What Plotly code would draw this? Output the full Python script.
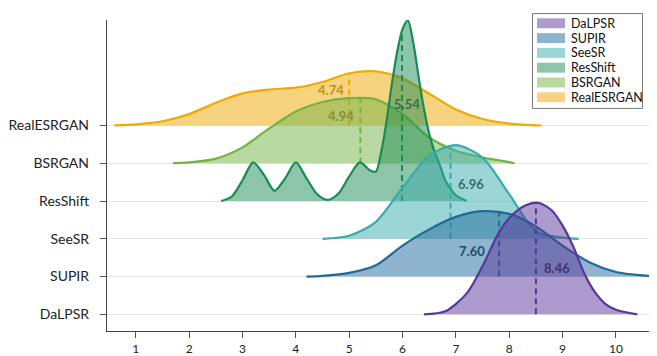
import numpy as np
import plotly.graph_objects as go

# ---------------- data ----------------
categories = ["DaLPSR", "SUPIR", "SeeSR", "ResShift", "BSRGAN", "RealESRGAN"]  # bottom -> top

mean_labels = [8.46, 7.60, 6.96, 5.54, 4.94, 4.74]          # printed values
dash_positions = [8.50, 7.81, 6.90, 5.99, 5.21, 5.00]       # dashed marker positions

# density curves (x, relative height)
dalpsr_x = [6.4, 6.8, 7.2, 7.5, 7.8, 8.0, 8.3, 8.55, 8.8, 9.0, 9.2, 9.4, 9.6, 9.8, 10.0, 10.4]
dalpsr_y = [0.0, 0.08, 0.55, 1.28, 2.15, 2.55, 2.88, 2.95, 2.75, 2.35, 1.80, 1.10, 0.60, 0.28, 0.12, 0.0]

supir_x = [4.2, 4.5, 5.0, 5.5, 6.0, 6.5, 7.0, 7.5, 8.0, 8.5, 9.0, 9.5, 10.0, 10.5, 10.8]
supir_y = [0.0, 0.02, 0.10, 0.30, 0.82, 1.25, 1.58, 1.73, 1.66, 1.33, 0.82, 0.38, 0.12, 0.03, 0.01]

seesr_x = [4.5, 5.0, 5.5, 6.0, 6.5, 7.0, 7.5, 8.0, 8.5, 9.0, 9.3]
seesr_y = [0.0, 0.08, 0.45, 1.35, 2.20, 2.48, 2.15, 1.18, 0.20, 0.03, 0.0]

resshift_x = [2.6, 2.8, 3.0, 3.2, 3.4, 3.6, 3.8, 4.0, 4.2, 4.4, 4.6, 4.8, 5.0, 5.2, 5.4, 5.5,
              5.6, 5.7, 5.8, 5.9, 6.0, 6.1, 6.2, 6.3, 6.4, 6.5, 6.6, 6.7, 6.8, 6.9, 7.0, 7.2]
resshift_y = [0.0, 0.12, 0.55, 1.02, 0.70, 0.27, 0.60, 1.02, 0.60, 0.18, 0.03, 0.20, 0.65, 1.02, 0.80, 0.78,
              1.30, 2.10, 3.10, 3.95, 4.55, 4.78, 4.20, 3.30, 2.45, 1.78, 1.30, 0.95, 0.55, 0.32, 0.15, 0.0]

bsrgan_x = [1.7, 2.0, 2.5, 3.0, 3.5, 4.0, 4.5, 5.0, 5.5, 6.0, 6.5, 7.0, 7.5, 8.0, 8.1]
bsrgan_y = [0.0, 0.02, 0.12, 0.42, 0.92, 1.37, 1.62, 1.72, 1.69, 1.30, 0.68, 0.33, 0.15, 0.03, 0.0]

realesrgan_x = [0.6, 1.0, 1.5, 2.0, 2.5, 3.0, 3.5, 4.0, 4.5, 5.0, 5.5, 6.0, 6.5, 7.0, 7.5, 8.0, 8.6]
realesrgan_y = [0.0, 0.03, 0.11, 0.30, 0.60, 0.85, 0.95, 1.00, 1.15, 1.38, 1.43, 1.24, 0.84, 0.42, 0.17, 0.05, 0.0]

curves_x = [dalpsr_x, supir_x, seesr_x, resshift_x, bsrgan_x, realesrgan_x]
curves_y = [dalpsr_y, supir_y, seesr_y, resshift_y, bsrgan_y, realesrgan_y]

x_ticks = [1, 2, 3, 4, 5, 6, 7, 8, 9, 10]

# ---------------- styles ----------------
line_colors = ["#59379a", "#1f699b", "#39abab", "#198b55", "#73b345", "#eeaa00"]
fill_colors = ["rgba(89,55,154,0.5)", "rgba(31,105,155,0.5)", "rgba(57,171,171,0.5)",
               "rgba(25,139,85,0.5)", "rgba(115,179,69,0.5)", "rgba(238,170,0,0.5)"]
label_colors = ["#4a2c72", "#1d4c6c", "#2d6f70", "#3a6b57", "#7d9040", "#c0921a"]
# label placement: (height above baseline, xanchor, pixel shift)
label_place = [(1.23, "left", 6), (0.67, "right", -12), (1.44, "left", 5),
               (2.57, "center", 5), (1.26, "right", -4), (0.95, "right", -3)]

FONT = "Lato, 'Open Sans', sans-serif"

fig = go.Figure()

# draw from top row to bottom row so lower ridges overlay upper ones
for i in reversed(range(len(categories))):
    xs = np.array(curves_x[i])
    hs = np.array(curves_y[i])
    base = i
    fig.add_trace(go.Scatter(x=[xs[0], xs[-1]], y=[base, base], mode="lines",
                             line=dict(width=0, color=line_colors[i]), hoverinfo="skip",
                             showlegend=False))
    fig.add_trace(go.Scatter(x=xs, y=base + hs, mode="lines", fill="tonexty",
                             fillcolor=fill_colors[i],
                             line=dict(color=line_colors[i], width=2.2, shape="spline", smoothing=0.8),
                             name=categories[i], showlegend=False))
    m = dash_positions[i]
    hm = float(np.interp(m, xs, hs))
    fig.add_trace(go.Scatter(x=[m, m], y=[base, base + hm], mode="lines",
                             line=dict(color=line_colors[i], width=2, dash="6px,4px"),
                             hoverinfo="skip", showlegend=False))

for i, cat in enumerate(categories):
    dy, anchor, shift = label_place[i]
    fig.add_annotation(x=dash_positions[i], y=i + dy, xref="x", yref="y",
                       text="<b>%.2f</b>" % mean_labels[i], showarrow=False,
                       xanchor=anchor, yanchor="middle", xshift=shift,
                       font=dict(family=FONT, size=13, color=label_colors[i]))

# ---------------- layout geometry (page offset of 8px from body margin) ----------------
OFF = 8
W, H = 657 - OFF, 356 - OFF
L, R, T, B = 107 - OFF, 0, 20 - OFF, 23
pw, ph = W - L - R, H - T - B


def px2x(px):
    return (px - OFF - L) / pw


def px2y(py):
    return (H - B - (py - OFF)) / ph


fig.add_shape(type="rect", xref="paper", yref="paper",
              x0=px2x(532.5), x1=px2x(642.5), y0=px2y(109), y1=px2y(13.5),
              line=dict(color="#7a7a7a", width=1), fillcolor="white", layer="above")
for k, i in enumerate(range(len(categories))):  # DaLPSR first
    cy = 23.3 + 14.9 * k
    fig.add_shape(type="rect", xref="paper", yref="paper",
                  x0=px2x(537), x1=px2x(565), y0=px2y(cy + 5), y1=px2y(cy - 5),
                  line=dict(width=0), fillcolor=fill_colors[i], layer="above")
    fig.add_annotation(x=px2x(569), y=px2y(cy), xref="paper", yref="paper",
                       text=categories[i], showarrow=False, xanchor="left", yanchor="middle",
                       font=dict(family=FONT, size=12.5, color="#111"))

fig.update_layout(
    width=W, height=H,
    margin=dict(l=L, r=R, t=T, b=B, pad=0),
    plot_bgcolor="white", paper_bgcolor="white",
    showlegend=False,
    font=dict(family=FONT, color="#222"),
    xaxis=dict(range=[0.46, 10.77], tickvals=x_ticks, ticktext=[str(v) for v in x_ticks],
               showgrid=False, zeroline=False, showline=True, linecolor="#444", linewidth=1.3,
               ticks="outside", ticklen=6, tickcolor="#555", tickwidth=1,
               tickfont=dict(size=12, family=FONT, color="#222")),
    yaxis=dict(range=[-0.44, 7.79], tickvals=list(range(len(categories))), ticktext=categories,
               showgrid=True, gridcolor="#e6e6e6", gridwidth=1, zeroline=False,
               showline=True, linecolor="#444", linewidth=1.3,
               ticks="outside", ticklen=6, tickcolor="#555", tickwidth=1, ticklabelstandoff=8,
               tickfont=dict(size=14, family=FONT, color="#222")),
)

fig.write_html("out.html")
